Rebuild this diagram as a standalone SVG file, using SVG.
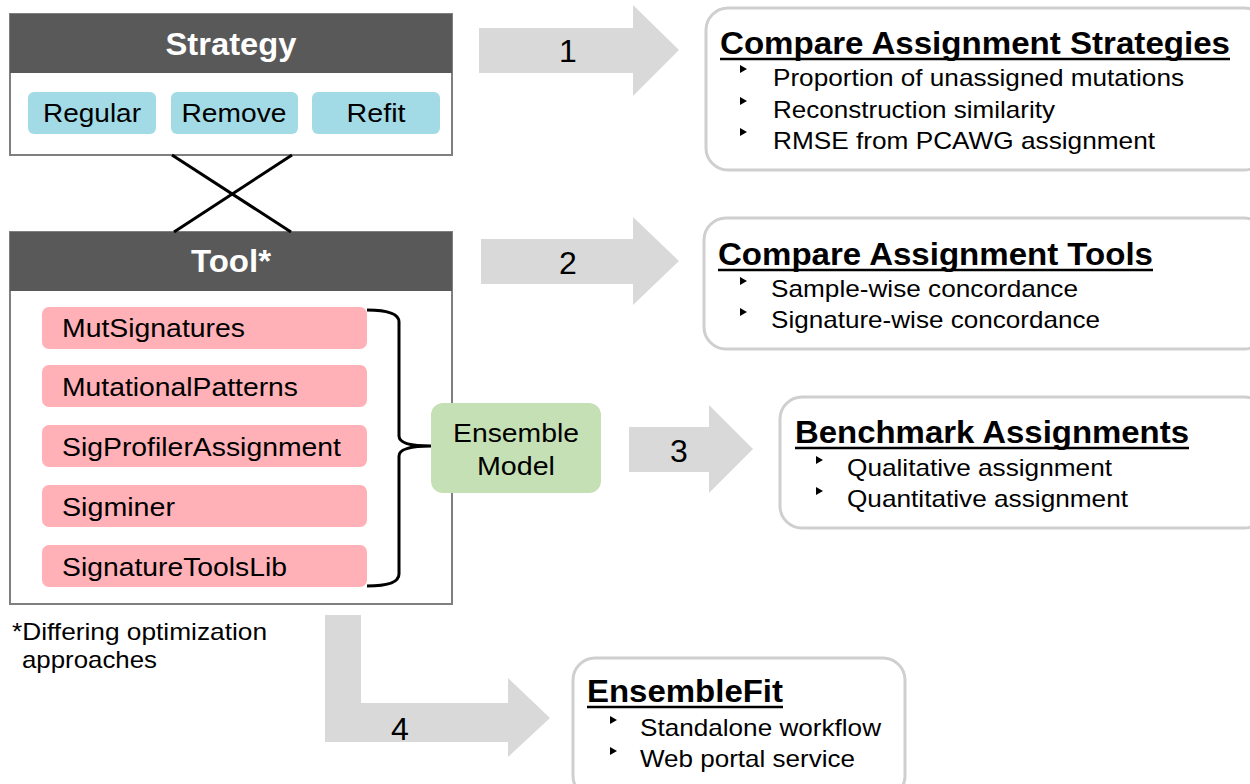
<svg xmlns="http://www.w3.org/2000/svg" width="1250" height="784" viewBox="0 0 1250 784">
<style>
text{font-family:"Liberation Sans",Arial,sans-serif;fill:#000}
.hdr{fill:#595959}
.frame{fill:#fff;stroke:#7f7f7f;stroke-width:2}
.htxt{fill:#fff;font-weight:bold;font-size:31px}
.blue{fill:#a2dbe6}
.pink{fill:#ffb1b7}
.ptxt{font-size:26px}
.arr{fill:#d9d9d9}
.num{font-size:32px}
.box{fill:#fff;stroke:#cfcfcf;stroke-width:3}
.ttl{font-weight:bold;font-size:31px}
.ul{stroke:#000;stroke-width:2.5}
.btxt{font-size:24px}
.bul{fill:#000}
</style>
<defs>
<polygon id="bullet" points="0,0 7,4 0,8"/>
</defs>

<g id="strategy">
<rect class="frame" x="10" y="14" width="442" height="141"/>
<rect class="hdr" x="10" y="14" width="442" height="59"/>
<text class="htxt" x="231" y="55" text-anchor="middle" textLength="131" lengthAdjust="spacingAndGlyphs">Strategy</text>
<g id="regular"><rect class="blue" x="28" y="92" width="128" height="42" rx="6"/><text class="ptxt" x="92" y="122" text-anchor="middle" textLength="98" lengthAdjust="spacingAndGlyphs">Regular</text></g>
<g id="remove"><rect class="blue" x="171" y="92" width="127" height="42" rx="6"/><text class="ptxt" x="234" y="122" text-anchor="middle" textLength="105" lengthAdjust="spacingAndGlyphs">Remove</text></g>
<g id="refit"><rect class="blue" x="312" y="92" width="128" height="42" rx="6"/><text class="ptxt" x="376" y="122" text-anchor="middle" textLength="59" lengthAdjust="spacingAndGlyphs">Refit</text></g>
</g>

<g id="tool">
<rect class="frame" x="10" y="232" width="442" height="372"/>
<rect class="hdr" x="10" y="232" width="442" height="59"/>
<text class="htxt" x="231" y="272" text-anchor="middle" textLength="80" lengthAdjust="spacingAndGlyphs">Tool*</text>
<g id="mutsignatures"><rect class="pink" x="42" y="307" width="325" height="42" rx="7"/><text class="ptxt" x="62" y="337" textLength="183" lengthAdjust="spacingAndGlyphs">MutSignatures</text></g>
<g id="mutationalpatterns"><rect class="pink" x="42" y="365" width="325" height="42" rx="7"/><text class="ptxt" x="62" y="396" textLength="236" lengthAdjust="spacingAndGlyphs">MutationalPatterns</text></g>
<g id="sigprofiler"><rect class="pink" x="42" y="425" width="325" height="42" rx="7"/><text class="ptxt" x="62" y="456" textLength="279" lengthAdjust="spacingAndGlyphs">SigProfilerAssignment</text></g>
<g id="sigminer"><rect class="pink" x="42" y="485" width="325" height="42" rx="7"/><text class="ptxt" x="62" y="516" textLength="113" lengthAdjust="spacingAndGlyphs">Sigminer</text></g>
<g id="signaturetoolslib"><rect class="pink" x="42" y="545" width="325" height="42" rx="7"/><text class="ptxt" x="62" y="576" textLength="225" lengthAdjust="spacingAndGlyphs">SignatureToolsLib</text></g>
</g>

<g id="connectors">
<line x1="172" y1="155" x2="291" y2="232" stroke="#000" stroke-width="3"/>
<line x1="292" y1="155" x2="174" y2="232" stroke="#000" stroke-width="3"/>
<path d="M367,310 Q399,310 399,322 L399,436 Q399,446 431,446 Q399,446 399,456 L399,574 Q399,586 367,586" fill="none" stroke="#000" stroke-width="3"/>
<g id="arrow1"><polygon class="arr" points="479,28 633,28 633,5 679,50 633,96 633,73 479,73"/><text class="num" x="568" y="62" text-anchor="middle">1</text></g>
<g id="arrow2"><polygon class="arr" points="481,239 633,239 633,217 679,261 633,305 633,284 481,284"/><text class="num" x="568" y="274" text-anchor="middle">2</text></g>
<g id="arrow3"><polygon class="arr" points="629,427 709,427 709,405 753,449 709,493 709,472 629,472"/><text class="num" x="679" y="462" text-anchor="middle">3</text></g>
<g id="arrow4"><polygon class="arr" points="325,615 361,615 361,703 508,703 508,678 550,718 508,757 508,742 325,742"/><text class="num" x="400" y="740" text-anchor="middle">4</text></g>
</g>

<g id="ensemble">
<rect x="431" y="403" width="170" height="90" rx="12" fill="#c5e0b4"/>
<text class="ptxt" x="516" y="442" text-anchor="middle" textLength="126" lengthAdjust="spacingAndGlyphs">Ensemble</text>
<text class="ptxt" x="516" y="475" text-anchor="middle" textLength="78" lengthAdjust="spacingAndGlyphs">Model</text>
</g>

<g id="footnote">
<text class="btxt" x="12" y="640" textLength="255" lengthAdjust="spacingAndGlyphs">*Differing optimization</text>
<text class="btxt" x="22" y="668" textLength="135" lengthAdjust="spacingAndGlyphs">approaches</text>
</g>

<g id="box1">
<rect class="box" x="706" y="8" width="560" height="162" rx="22"/>
<text class="ttl" x="720" y="54" textLength="510" lengthAdjust="spacingAndGlyphs">Compare Assignment Strategies</text>
<line class="ul" x1="720" y1="59" x2="1230" y2="59"/>
<use href="#bullet" x="740" y="65"/><text class="btxt" x="773" y="86" textLength="411" lengthAdjust="spacingAndGlyphs">Proportion of unassigned mutations</text>
<use href="#bullet" x="740" y="97"/><text class="btxt" x="773" y="118" textLength="282" lengthAdjust="spacingAndGlyphs">Reconstruction similarity</text>
<use href="#bullet" x="740" y="128"/><text class="btxt" x="773" y="149" textLength="382" lengthAdjust="spacingAndGlyphs">RMSE from PCAWG assignment</text>
</g>

<g id="box2">
<rect class="box" x="704" y="218" width="562" height="131" rx="22"/>
<text class="ttl" x="718" y="265" textLength="435" lengthAdjust="spacingAndGlyphs">Compare Assignment Tools</text>
<line class="ul" x1="718" y1="270" x2="1153" y2="270"/>
<use href="#bullet" x="740" y="277"/><text class="btxt" x="771" y="297" textLength="307" lengthAdjust="spacingAndGlyphs">Sample-wise concordance</text>
<use href="#bullet" x="740" y="308"/><text class="btxt" x="771" y="328" textLength="329" lengthAdjust="spacingAndGlyphs">Signature-wise concordance</text>
</g>

<g id="box3">
<rect class="box" x="780" y="397" width="486" height="131" rx="22"/>
<text class="ttl" x="795" y="443" textLength="394" lengthAdjust="spacingAndGlyphs">Benchmark Assignments</text>
<line class="ul" x1="795" y1="448" x2="1189" y2="448"/>
<use href="#bullet" x="816" y="456"/><text class="btxt" x="847" y="476" textLength="265" lengthAdjust="spacingAndGlyphs">Qualitative assignment</text>
<use href="#bullet" x="816" y="487"/><text class="btxt" x="847" y="507" textLength="281" lengthAdjust="spacingAndGlyphs">Quantitative assignment</text>
</g>

<g id="box4">
<rect class="box" x="573" y="658" width="332" height="140" rx="22"/>
<text class="ttl" x="587" y="702" textLength="196" lengthAdjust="spacingAndGlyphs">EnsembleFit</text>
<line class="ul" x1="587" y1="707" x2="783" y2="707"/>
<use href="#bullet" x="610" y="716"/><text class="btxt" x="640" y="736" textLength="241" lengthAdjust="spacingAndGlyphs">Standalone workflow</text>
<use href="#bullet" x="610" y="747"/><text class="btxt" x="640" y="767" textLength="215" lengthAdjust="spacingAndGlyphs">Web portal service</text>
</g>
</svg>
